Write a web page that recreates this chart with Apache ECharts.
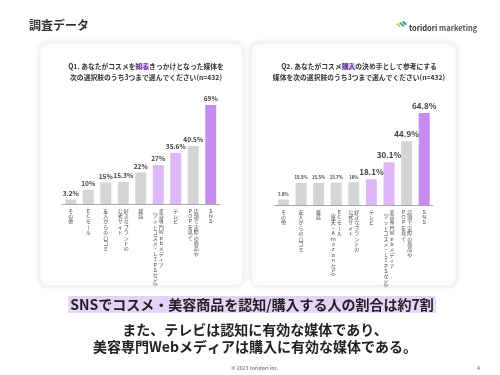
<!DOCTYPE html>
<html>
<head>
<meta charset="utf-8">
<script src="https://cdn.jsdelivr.net/npm/echarts@6/dist/echarts.min.js"></script>
<style>
  html, body { margin: 0; padding: 0; background: #fff; }
  #chart { width: 500px; height: 375px; }
</style>
</head>
<body>
<div id="chart"></div>
<script>
// Q1: 知るきっかけ
const q1Categories = ['その他', 'ECモール', '友人からの口コミ', '好きなブランドの\n公式サイト', '雑誌',
  '美容専門Webメディア\n(アットコスメ・LIPSなど)', 'テレビ', '店頭で実際の商品や\nPOPを見て', 'SNS'];
const q1Values = [3.2, 10, 15, 15.3, 22, 27, 35.6, 40.5, 69];

// Q2: 購入の決め手
const q2Categories = ['その他', '友人からの口コミ', '雑誌', 'ECモール\n(楽天・Amazonなど)', '好きなブランドの\n公式サイト',
  'テレビ', '美容専門Webメディア\n(アットコスメ・LIPSなど)', '店頭で実際の商品や\nPOPを見て', 'SNS'];
const q2Values = [3.8, 15.5, 15.5, 15.7, 16, 18.1, 30.1, 44.9, 64.8];

const FONT = '"Noto Sans CJK JP", "Noto Sans", sans-serif';
const GRAY = '#d5d5d5', LIGHT = '#dcb9f6', DARK = '#c68cf1';

function barColor(name) {
  if (name === 'SNS') return DARK;
  if (name === 'テレビ' || name.indexOf('美容専門') === 0) return LIGHT;
  return GRAY;
}

// tategaki: each char on its own line, columns right-to-left
function toVertChar(c) {
  if (c === '(' || c === '（') return '︵';
  if (c === ')' || c === '）') return '︶';
  if (c === 'ー') return '丨';
  const code = c.charCodeAt(0);
  if (code >= 0x21 && code <= 0x7e) return String.fromCharCode(code + 0xfee0);
  return c;
}
function vertical(label) {
  const cols = label.split('\n').map(s => Array.from(s).map(toVertChar));
  const n = Math.max.apply(null, cols.map(c => c.length));
  const lines = [];
  for (let i = 0; i < n; i++) {
    const row = [];
    for (let k = cols.length - 1; k >= 0; k--) row.push(cols[k][i] || '　');
    lines.push(row.join(' '));
  }
  return lines.join('\n');
}

function barSeries(values, cats, idx, small) {
  return {
    type: 'bar',
    xAxisIndex: idx,
    yAxisIndex: idx,
    barWidth: 11,
    data: values.map((v, i) => ({
      value: v,
      itemStyle: { color: barColor(cats[i]) },
      label: small && v < 17 ? { fontSize: 4.3 } : {}
    })),
    label: {
      show: true,
      position: 'top',
      distance: 3,
      formatter: p => p.value + '%',
      fontFamily: FONT,
      fontWeight: 'bold',
      fontSize: small ? 8 : 6.5,
      color: '#444'
    }
  };
}

function xAx(cats, idx) {
  return {
    type: 'category',
    gridIndex: idx,
    data: cats,
    axisTick: { show: false },
    axisLine: { lineStyle: { color: '#a8a8a8', width: 1 } },
    axisLabel: {
      interval: 0,
      margin: 4,
      formatter: vertical,
      fontFamily: FONT,
      fontSize: 5,
      lineHeight: 5.4,
      color: '#444',
      verticalAlign: 'top'
    }
  };
}
function yAx(idx) {
  return { type: 'value', gridIndex: idx, min: 0, max: 75, show: false };
}

const titleText = {
  fontFamily: FONT, fontSize: 6.8, fontWeight: 'bold', color: '#333', lineHeight: 11,
  rich: { h: { backgroundColor: '#dcbff6', fontFamily: FONT, fontSize: 6.8, fontWeight: 'bold', color: '#5a3a86', lineHeight: 11 } }
};

const chart = echarts.init(document.getElementById('chart'));
chart.setOption({
  backgroundColor: '#fff',
  animation: false,
  title: [
    { text: '調査データ', left: 24, top: 14, textStyle: { fontFamily: FONT, fontSize: 12, fontWeight: 'bold', color: '#333' } },
    { text: 'Q1. あなたがコスメを{h|知る}きっかけとなった媒体を\n次の選択肢のうち3つまで選んでください(n=432)',
      left: 141, top: 56, textAlign: 'center', textStyle: titleText },
    { text: 'Q2. あなたがコスメ{h|購入}の決め手として参考にする\n媒体を次の選択肢のうち3つまで選んでください(n=432)',
      left: 354, top: 56, textAlign: 'center', textStyle: titleText },
    { text: 'SNSでコスメ・美容商品を認知/購入する人の割合は約7割', left: 250, top: 296, textAlign: 'center',
      backgroundColor: '#e5d4f8', padding: [0, 2],
      textStyle: { fontFamily: FONT, fontSize: 14, fontWeight: 'bold', color: '#222', lineHeight: 17 } },
    { text: 'また、テレビは認知に有効な媒体であり、\n美容専門Webメディアは購入に有効な媒体である。', left: 250, top: 316, textAlign: 'center',
      textStyle: { fontFamily: FONT, fontSize: 14, fontWeight: 'bold', color: '#222', lineHeight: 17 } },
    { text: '© 2023 toridori inc.', left: 250, top: 361, textAlign: 'center',
      textStyle: { fontFamily: FONT, fontSize: 5, color: '#888' } },
    { text: '4', left: 472, top: 361, textStyle: { fontFamily: FONT, fontSize: 5, color: '#888' } },
    { text: '{b|toridori} marketing', left: 404, top: 19,
      textStyle: { fontFamily: FONT, fontSize: 7.5, color: '#555', rich: { b: { fontFamily: FONT, fontSize: 7.5, fontWeight: 'bold', color: '#333' } } } }
  ],
  graphic: [
    { type: 'rect', z: 0, shape: { x: 40, y: 43, width: 203, height: 243, r: 8 },
      style: { fill: '#fff', shadowBlur: 6, shadowColor: 'rgba(0,0,0,0.10)', stroke: '#f0f0f0' } },
    { type: 'rect', z: 0, shape: { x: 251, y: 43, width: 205, height: 243, r: 8 },
      style: { fill: '#fff', shadowBlur: 6, shadowColor: 'rgba(0,0,0,0.10)', stroke: '#f0f0f0' } },
    // logo mark
    { type: 'rect', z: 1, x: 396, y: 24, rotation: Math.PI / 4, shape: { x: 0, y: 0, width: 2, height: 5, r: 1 }, style: { fill: '#f2c53d' } },
    { type: 'rect', z: 1, x: 399, y: 23, rotation: Math.PI / 4, shape: { x: 0, y: 0, width: 2, height: 6, r: 1 }, style: { fill: '#4fb36a' } },
    { type: 'rect', z: 1, x: 402, y: 22, rotation: Math.PI / 4, shape: { x: 0, y: 0, width: 2, height: 5, r: 1 }, style: { fill: '#3a7bd5' } }
  ],
  grid: [
    { left: 62, right: 280.5, top: 96.4, bottom: 171 },
    { left: 274.6, right: 67, top: 98.5, bottom: 170 }
  ],
  xAxis: [xAx(q1Categories, 0), xAx(q2Categories, 1)],
  yAxis: [yAx(0), yAx(1)],
  series: [barSeries(q1Values, q1Categories, 0, false), barSeries(q2Values, q2Categories, 1, true)]
});
</script>
</body>
</html>
